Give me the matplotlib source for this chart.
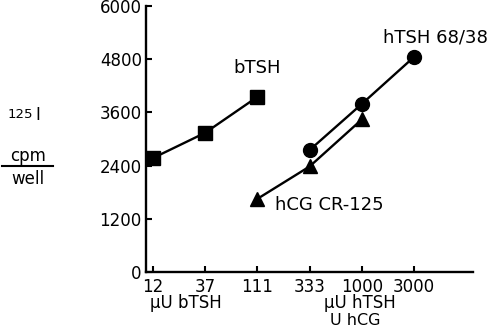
import matplotlib
matplotlib.use('Agg')
import matplotlib.pyplot as plt

plt.rcParams['font.family'] = 'DejaVu Sans'

# dose levels (log spaced, plotted as evenly spaced positions)
dose_labels = ['12', '37', '111', '333', '1000', '3000']

btsh_pos = [0, 1, 2]
btsh_cpm = [2570, 3140, 3950]

htsh_pos = [3, 4, 5]
htsh_cpm = [2750, 3790, 4850]

hcg_pos = [2, 3, 4]
hcg_cpm = [1650, 2380, 3440]

y_ticks = [0, 1200, 2400, 3600, 4800, 6000]

fig = plt.figure(figsize=(5, 3.29), dpi=100)
ax = fig.add_axes([0.292, 0.1733, 0.654, 0.8085])

ax.plot(btsh_pos, btsh_cpm, color='black', lw=1.7, marker='s', ms=9.5, clip_on=False)
ax.plot(htsh_pos, htsh_cpm, color='black', lw=1.7, marker='o', ms=10, clip_on=False)
ax.plot(hcg_pos, hcg_cpm, color='black', lw=1.7, marker='^', ms=10, clip_on=False)

ax.set_xlim(-0.134, 6.13)
ax.set_ylim(0, 6000)
ax.set_xticks(range(len(dose_labels)))
ax.set_xticklabels(dose_labels)
ax.set_yticks(y_ticks)

for side in ['top', 'right']:
    ax.spines[side].set_visible(False)
for side in ['left', 'bottom']:
    ax.spines[side].set_linewidth(1.7)
ax.tick_params(direction='in', length=4, width=1.5, labelsize=12, pad=3)
ax.tick_params(axis='x', pad=4)

# curve labels
ax.text(1.54, 4480, 'bTSH', fontsize=13, ha='left', va='baseline')
ax.text(4.4, 5180, 'hTSH 68/38', fontsize=13, ha='left', va='baseline')
ax.text(2.33, 1400, 'hCG CR-125', fontsize=13, ha='left', va='baseline')

# unit labels under the x axis
fig.text(0.371, 1 - 308 / 329, 'μU bTSH', fontsize=12, ha='center', va='baseline')
fig.text(0.72, 1 - 308 / 329, 'μU hTSH', fontsize=12, ha='center', va='baseline')
fig.text(0.711, 1 - 325 / 329, 'U hCG', fontsize=11.5, ha='center', va='baseline')

# y axis label: 125I cpm / well
fig.text(0.015, 1 - 118 / 329, '125', fontsize=9.5, ha='left', va='baseline')
fig.text(0.071, 1 - 120 / 329, 'I', fontsize=12, ha='left', va='baseline')
fig.text(0.056, 1 - 161 / 329, 'cpm', fontsize=12, ha='center', va='baseline')
fig.text(0.056, 1 - 184 / 329, 'well', fontsize=12, ha='center', va='baseline')
fig.add_artist(plt.Line2D([0.004, 0.106], [1 - 166 / 329, 1 - 166 / 329],
                          color='black', lw=1.5, transform=fig.transFigure))

fig.savefig('out.png', dpi=100)
